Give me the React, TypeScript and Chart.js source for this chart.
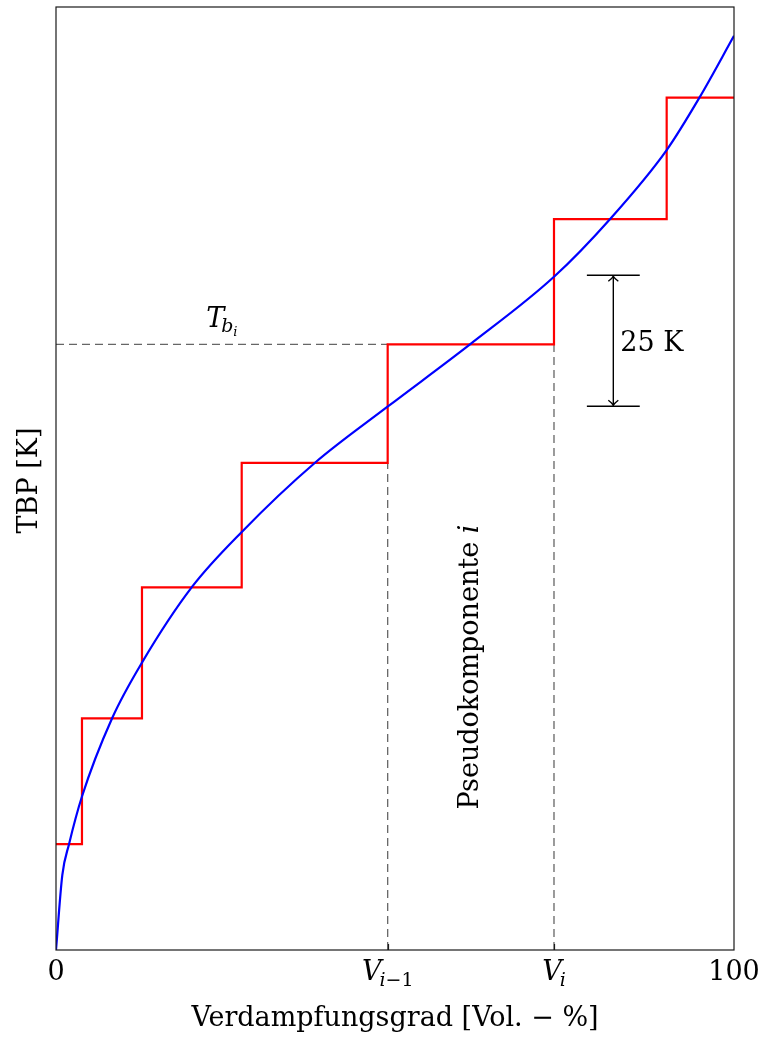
import { useEffect, useRef } from 'react';
import { Chart, registerables } from 'chart.js';

Chart.register(...registerables);

// Boundaries of the pseudo-component cuts on the volume axis [Vol.-%]
const cutPoints = [0, 3.83, 12.68, 27.39, 48.92, 73.45, 90.07, 100];
// Mean boiling temperature of each pseudo-component [K, relative]
const pseudoTemps = [20.2, 44.2, 69.2, 93.0, 115.6, 139.5, 162.7];

// True boiling point curve
const tbpVolume = [0, 0.93, 1.92, 3.83, 8.26, 12.7, 20.06, 27.4, 38.2, 48.9, 61.06, 73.45, 81.7, 90.07, 94.9, 100];
const tbpTemp = [0, 14.3, 20.2, 29.3, 44.2, 54.9, 69.3, 79.8, 93.0, 103.7, 115.6, 128.5, 139.5, 152.7, 162.7, 174.5];

// Index of the highlighted pseudo-component i
const componentIndex = 4;

// Scale bar: 25 K
const scaleBarStart = 103.8;
const scaleBarSpan = 25;
const scaleBarX = [78.3, 86.1];

const xMin = 0;
const xMax = 100;
const yMin = 0;
const yMax = 180;

const SERIF = '"DejaVu Serif", "Liberation Serif", serif';
const FS = 27;
const SUB = 19;

type Part = { text: string; size: number; italic?: boolean; dy?: number; dx?: number };

function partFont(p: Part) {
  return `${p.italic ? 'italic ' : ''}${p.size}px ${SERIF}`;
}

function drawParts(ctx: CanvasRenderingContext2D, parts: Part[], x: number, y: number, align: 'left' | 'center') {
  let total = 0;
  for (const p of parts) {
    ctx.font = partFont(p);
    total += ctx.measureText(p.text).width + (p.dx || 0);
  }
  let cx = align === 'center' ? x - total / 2 : x;
  ctx.textAlign = 'left';
  ctx.textBaseline = 'alphabetic';
  for (const p of parts) {
    ctx.font = partFont(p);
    cx += p.dx || 0;
    ctx.fillText(p.text, cx, y + (p.dy || 0));
    cx += ctx.measureText(p.text).width;
  }
}

const xTickLabels: Part[][] = [
  [{ text: '0', size: FS }],
  [
    { text: 'V', size: FS, italic: true },
    { text: 'i', size: SUB, italic: true, dy: 6, dx: -2 },
    { text: '−1', size: SUB, dy: 6 },
  ],
  [
    { text: 'V', size: FS, italic: true },
    { text: 'i', size: SUB, italic: true, dy: 6, dx: -2 },
  ],
  [{ text: '100', size: FS }],
];
const xTickValues = [0, cutPoints[componentIndex], cutPoints[componentIndex + 1], 100];

const annotationPlugin = {
  id: 'tbpAnnotations',
  afterDraw(chart: any) {
    const { ctx, chartArea } = chart;
    const xs = chart.scales.x;
    const ys = chart.scales.y;
    ctx.save();

    // frame
    ctx.strokeStyle = '#1a1a1a';
    ctx.lineWidth = 1.2;
    ctx.strokeRect(chartArea.left, chartArea.top, chartArea.right - chartArea.left, chartArea.bottom - chartArea.top);

    // inner tick marks at V_{i-1} and V_i
    ctx.beginPath();
    for (const v of xTickValues.slice(1, 3)) {
      const px = Math.round(xs.getPixelForValue(v)) + 0.5;
      ctx.moveTo(px, chartArea.bottom);
      ctx.lineTo(px, chartArea.bottom - 6);
    }
    ctx.stroke();

    ctx.fillStyle = '#000';
    // x tick labels
    xTickValues.forEach((v, k) => {
      drawParts(ctx, xTickLabels[k], xs.getPixelForValue(v), chartArea.bottom + 30, 'center');
    });

    // axis titles
    drawParts(ctx, [{ text: 'Verdampfungsgrad [Vol. − %]', size: FS }], (chartArea.left + chartArea.right) / 2, chartArea.bottom + 76, 'center');
    ctx.save();
    ctx.translate(37, (chartArea.top + chartArea.bottom) / 2 + 2);
    ctx.rotate(-Math.PI / 2);
    drawParts(ctx, [{ text: 'TBP [K]', size: FS }], 0, 0, 'center');
    ctx.restore();

    // T_{b_i} label above the dashed level line
    const tbX = xs.getPixelForValue((xMin + cutPoints[componentIndex]) / 2);
    const tbY = ys.getPixelForValue(pseudoTemps[componentIndex]) - 17;
    drawParts(ctx, [
      { text: 'T', size: FS, italic: true },
      { text: 'b', size: SUB, italic: true, dy: 5, dx: -3 },
      { text: 'i', size: 13, italic: true, dy: 9 },
    ], tbX, tbY, 'center');

    // component label, rotated between V_{i-1} and V_i
    ctx.save();
    const pcX = xs.getPixelForValue((cutPoints[componentIndex] + cutPoints[componentIndex + 1]) / 2);
    ctx.translate(pcX + 7, 667);
    ctx.rotate(-Math.PI / 2);
    drawParts(ctx, [
      { text: 'Pseudokomponente ', size: FS },
      { text: 'i', size: FS, italic: true },
    ], 0, 0, 'center');
    ctx.restore();

    // scale bar arrowheads and label
    const bx = xs.getPixelForValue((scaleBarX[0] + scaleBarX[1]) / 2);
    const yTop = ys.getPixelForValue(scaleBarStart + scaleBarSpan);
    const yBot = ys.getPixelForValue(scaleBarStart);
    ctx.strokeStyle = '#000';
    ctx.lineWidth = 1.4;
    ctx.beginPath();
    ctx.moveTo(bx - 5, yTop + 6);
    ctx.quadraticCurveTo(bx - 1, yTop + 3, bx, yTop + 1);
    ctx.quadraticCurveTo(bx + 1, yTop + 3, bx + 5, yTop + 6);
    ctx.moveTo(bx - 5, yBot - 6);
    ctx.quadraticCurveTo(bx - 1, yBot - 3, bx, yBot - 1);
    ctx.quadraticCurveTo(bx + 1, yBot - 3, bx + 5, yBot - 6);
    ctx.stroke();
    drawParts(ctx, [{ text: '25 K', size: FS }], bx + 7, (yTop + yBot) / 2 + 10, 'left');

    ctx.restore();
  },
};

export default function App() {
  const canvasRef = useRef<HTMLCanvasElement | null>(null);

  useEffect(() => {
    const canvas = canvasRef.current;
    if (!canvas) return;

    const stairs: { x: number; y: number }[] = [];
    for (let k = 0; k < pseudoTemps.length; k++) {
      stairs.push({ x: cutPoints[k], y: pseudoTemps[k] });
      stairs.push({ x: cutPoints[k + 1], y: pseudoTemps[k] });
    }
    const tbp = tbpVolume.map((v, k) => ({ x: v, y: tbpTemp[k] }));

    const vPrev = cutPoints[componentIndex];
    const vCur = cutPoints[componentIndex + 1];
    const tb = pseudoTemps[componentIndex];

    const dashStyle = {
      borderColor: '#666666',
      borderWidth: 1.3,
      borderDash: [8, 5],
      pointRadius: 0,
      fill: false,
      tension: 0,
      order: 3,
    };
    const barStyle = {
      borderColor: '#000000',
      borderWidth: 1.6,
      pointRadius: 0,
      fill: false,
      tension: 0,
      order: 4,
    };
    const barTop = scaleBarStart + scaleBarSpan;
    const barMidX = (scaleBarX[0] + scaleBarX[1]) / 2;

    const chart = new Chart(canvas, {
      type: 'scatter',
      data: {
        datasets: [
          {
            label: 'TBP',
            data: tbp,
            showLine: true,
            borderColor: '#0000ff',
            borderWidth: 2.2,
            pointRadius: 0,
            cubicInterpolationMode: 'monotone',
            order: 0,
          },
          {
            label: 'Pseudokomponenten',
            data: stairs,
            showLine: true,
            borderColor: '#ff0000',
            borderWidth: 2.2,
            pointRadius: 0,
            tension: 0,
            order: 1,
          },
          { label: 'Tb', data: [{ x: xMin, y: tb }, { x: vPrev, y: tb }], showLine: true, ...dashStyle },
          { label: 'Vi-1', data: [{ x: vPrev, y: yMin }, { x: vPrev, y: pseudoTemps[componentIndex - 1] }], showLine: true, ...dashStyle },
          { label: 'Vi', data: [{ x: vCur, y: yMin }, { x: vCur, y: tb }], showLine: true, ...dashStyle },
          { label: 'bar-top', data: [{ x: scaleBarX[0], y: barTop }, { x: scaleBarX[1], y: barTop }], showLine: true, ...barStyle },
          { label: 'bar-bottom', data: [{ x: scaleBarX[0], y: scaleBarStart }, { x: scaleBarX[1], y: scaleBarStart }], showLine: true, ...barStyle },
          { label: 'bar-stem', data: [{ x: barMidX, y: scaleBarStart }, { x: barMidX, y: barTop }], showLine: true, ...barStyle, borderWidth: 1.4 },
        ] as any,
      },
      options: {
        responsive: false,
        animation: false,
        devicePixelRatio: 1,
        layout: { padding: { left: 56, top: 7, right: 26, bottom: 87 } },
        plugins: { legend: { display: false }, tooltip: { enabled: false } },
        scales: {
          x: { type: 'linear', min: xMin, max: xMax, display: false },
          y: { type: 'linear', min: yMin, max: yMax, display: false },
        },
      },
      plugins: [annotationPlugin],
    });

    return () => chart.destroy();
  }, []);

  return (
    <div style={{ position: 'absolute', left: 0, top: 0, width: 760, height: 1037, background: '#fff' }}>
      <canvas ref={canvasRef} width={760} height={1037} style={{ display: 'block' }} />
    </div>
  );
}
